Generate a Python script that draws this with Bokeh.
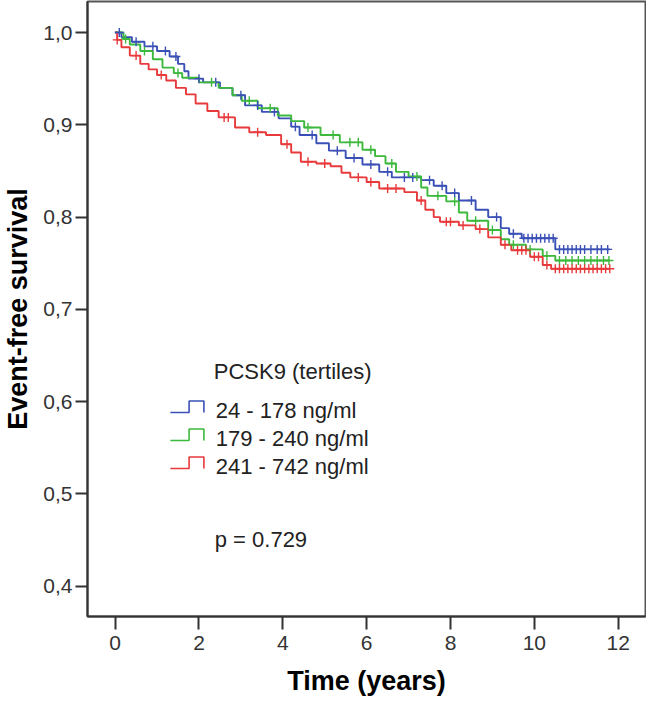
import numpy as np
from bokeh.plotting import figure
from bokeh.models import Range1d, FixedTicker, CustomJSTickFormatter
from bokeh.core.properties import value
from bokeh.embed import file_html
from bokeh.resources import INLINE

# ---------------- data ----------------
blue_t = [0, 0.15, 0.4, 0.7, 1.0, 1.3, 1.5, 1.65, 1.75, 2.1, 2.5, 2.8, 3.1, 3.5, 3.9,
          4.2, 4.4, 4.8, 5.1, 5.5, 5.9, 6.3, 6.6, 7.3, 7.6, 7.9, 8.2, 8.6, 8.9, 9.2,
          9.4, 9.7, 10.5, 11.8]
blue_s = [1.0, 0.995, 0.990, 0.985, 0.980, 0.974, 0.966, 0.958, 0.950, 0.946, 0.940,
          0.932, 0.921, 0.914, 0.907, 0.898, 0.889, 0.880, 0.872, 0.864, 0.857, 0.849,
          0.843, 0.840, 0.834, 0.826, 0.818, 0.808, 0.800, 0.788, 0.782, 0.777, 0.765,
          0.765]
green_t = [0, 0.2, 0.35, 0.6, 0.9, 1.13, 1.4, 1.6, 2.0, 2.47, 2.8, 3.02, 3.4, 3.88, 4.2,
           4.51, 4.9, 5.36, 5.9, 6.2, 6.45, 6.7, 7.0, 7.3, 7.45, 7.9, 8.2, 8.4, 8.9,
           9.2, 9.4, 9.8, 10.2, 10.5, 11.8]
green_s = [1.0, 0.993, 0.987, 0.980, 0.971, 0.962, 0.956, 0.951, 0.946, 0.940, 0.932,
           0.926, 0.918, 0.910, 0.904, 0.897, 0.889, 0.881, 0.873, 0.866, 0.858, 0.849,
           0.844, 0.832, 0.823, 0.817, 0.805, 0.796, 0.786, 0.776, 0.770, 0.765, 0.758,
           0.753, 0.753]
red_t = [0, 0.05, 0.15, 0.35, 0.6, 0.8, 1.0, 1.22, 1.45, 1.69, 1.92, 2.2, 2.47, 2.86,
         3.2, 3.6, 3.96, 4.2, 4.43, 4.8, 5.14, 5.4, 5.61, 6.0, 6.3, 6.9, 7.2, 7.4, 7.6,
         7.75, 8.2, 8.6, 8.9, 9.2, 9.45, 9.9, 10.2, 10.4, 11.8]
red_s = [1.0, 0.992, 0.984, 0.975, 0.966, 0.960, 0.954, 0.948, 0.940, 0.933, 0.923,
         0.915, 0.908, 0.897, 0.892, 0.889, 0.879, 0.870, 0.860, 0.858, 0.855, 0.848,
         0.843, 0.838, 0.831, 0.827, 0.818, 0.808, 0.800, 0.795, 0.791, 0.787, 0.778,
         0.770, 0.764, 0.757, 0.748, 0.744, 0.744]

blue_cens = [0.1, 0.5, 0.9, 1.2, 1.45, 2.0, 2.4, 3.0, 3.4, 3.8, 4.3, 4.7, 5.3, 5.7, 6.1,
             6.5, 6.9, 7.1, 7.5, 7.8, 8.1, 8.5, 9.1, 9.5, 9.75, 9.85, 9.95, 10.05, 10.15,
             10.25, 10.35, 10.45, 10.6, 10.7, 10.8, 10.9, 11.0, 11.1, 11.2, 11.35, 11.5,
             11.6, 11.75]
green_cens = [0.25, 0.7, 1.5, 2.3, 3.2, 3.7, 4.6, 5.2, 5.6, 5.8, 6.1, 6.6, 7.2, 7.7,
              8.1, 8.6, 9.0, 9.5, 9.9, 10.3, 10.6, 10.75, 10.9, 11.05, 11.2, 11.35,
              11.5, 11.65, 11.78]
red_cens = [0.05, 0.5, 1.1, 2.6, 2.7, 3.4, 4.1, 4.6, 5.0, 5.8, 6.1, 6.5, 6.7, 7.3, 7.9,
            8.0, 8.3, 8.7, 9.3, 9.6, 9.7, 9.8, 10.0, 10.1, 10.3, 10.5, 10.6, 10.7, 10.8,
            10.9, 11.0, 11.1, 11.2, 11.3, 11.4, 11.5, 11.6, 11.7, 11.8]

groups = ["24 - 178 ng/ml", "179 - 240 ng/ml", "241 - 742 ng/ml"]
legend_title = "PCSK9 (tertiles)"
p_text = "p = 0.729"
y_ticks = [0.4, 0.5, 0.6, 0.7, 0.8, 0.9, 1.0]
x_ticks = [0, 2, 4, 6, 8, 10, 12]

colors = ["#3a50b6", "#3cb93c", "#e8393b"]
FONT = "Liberation Sans"

p = figure(width=646, height=700, x_range=Range1d(-0.659, 12.652),
           y_range=Range1d(0.3672, 1.0336), output_backend="svg",
           toolbar_location=None, min_border_left=79, min_border_right=1,
           min_border_top=1, min_border_bottom=84)
p.grid.visible = False
p.outline_line_color = "#555555"
p.outline_line_width = 2
p.background_fill_color = "white"

for ax in (p.xaxis[0], p.yaxis[0]):
    ax.axis_line_color = "#333333"
    ax.axis_line_width = 2
    ax.major_tick_line_color = "#333333"
    ax.major_tick_line_width = 2
    ax.major_tick_in = 0
    ax.minor_tick_line_color = None
    ax.major_label_text_font = FONT
    ax.major_label_text_font_size = "21px"
    ax.major_label_text_color = "#333333"
    ax.axis_label_text_font = FONT
    ax.axis_label_text_font_style = "bold"
    ax.axis_label_text_font_size = "27px"
    ax.axis_label_text_color = "#000000"

p.xaxis.ticker = FixedTicker(ticks=x_ticks)
p.xaxis.major_tick_out = 13
p.xaxis.major_label_standoff = 6
p.xaxis.axis_label = "Time (years)"
p.xaxis.axis_label_standoff = 13

p.yaxis.ticker = FixedTicker(ticks=y_ticks)
p.yaxis.major_tick_out = 12
p.yaxis.major_label_standoff = 3
p.yaxis.formatter = CustomJSTickFormatter(code="return tick.toFixed(1).replace('.', ',');")
p.yaxis.axis_label = "Event-free survival"
p.yaxis.axis_label_standoff = 7

series = [(blue_t, blue_s, blue_cens), (green_t, green_s, green_cens),
          (red_t, red_s, red_cens)]

for (t, s, c), col in zip(series, colors):
    p.step(x=t, y=s, mode="after", line_color=col, line_width=1.9)
for (t, s, c), col in zip(series, colors):
    ta = np.array(t); sa = np.array(s)
    idx = np.searchsorted(ta, np.array(c), side="right") - 1
    p.scatter(x=c, y=sa[idx], marker="cross", size=9, line_color=col,
              line_width=1.4)

# ---------- legend & annotation (pixel layout converted to data) ----------
def px_to_x(px):
    return (px - 115.0) / 42.5

def py_to_y(py):
    return 1.0 - (py - 32.0) / 922.8

text_font = value(FONT)
p.text(x=[px_to_x(215)], y=[py_to_y(371)], text=[legend_title],
       text_font=text_font, text_font_size="22px", text_color="#222222",
       text_baseline="middle", text_align="left")

entry_py = [410, 438, 466]
for name, col, cy in zip(groups, colors, entry_py):
    p.text(x=[px_to_x(217)], y=[py_to_y(cy)], text=[name], text_font=text_font,
           text_font_size="22px", text_color="#222222", text_baseline="middle",
           text_align="left")
    xs = [px_to_x(171), px_to_x(190), px_to_x(190), px_to_x(205), px_to_x(205)]
    ys = [py_to_y(cy + 2), py_to_y(cy + 2), py_to_y(cy - 9.5), py_to_y(cy - 9.5),
          py_to_y(cy + 2)]
    p.line(x=xs, y=ys, line_color=col, line_width=1.6)

p.text(x=[px_to_x(216)], y=[py_to_y(539)], text=[p_text], text_font=text_font,
       text_font_size="22px", text_color="#222222", text_baseline="middle",
       text_align="left")

open("out.html", "w").write(file_html(p, INLINE))
